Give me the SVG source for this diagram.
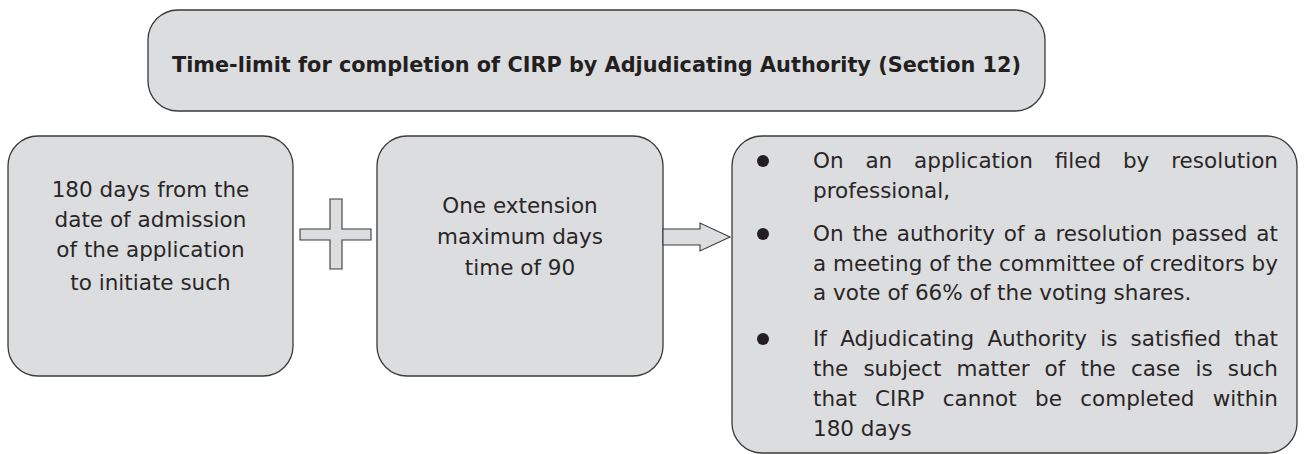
<svg xmlns="http://www.w3.org/2000/svg" width="1304" height="454" viewBox="0 0 1304 454">
<style>
.box{fill:#dcdddf;stroke:#3a3a3a;stroke-width:1.3}
.shape{fill:#dcdddf;stroke:#3a3a3a;stroke-width:1.1}
.t{font-family:"DejaVu Sans",sans-serif;font-size:21.5px;fill:#2a2627}
.c{text-anchor:middle}
.title{font-family:"DejaVu Sans",sans-serif;font-size:20.8px;font-weight:bold;fill:#231f20}
.dot{fill:#231f20}
</style>
<rect width="1304" height="454" fill="#ffffff"/>
<g id="title-node">
<rect class="box" x="148" y="10" width="897" height="101" rx="30"/>
<text class="title" x="172" y="72" textLength="849" lengthAdjust="spacingAndGlyphs">Time-limit for completion of CIRP by Adjudicating Authority (Section 12)</text>
</g>
<g id="node-180days">
<rect class="box" x="8" y="136" width="285" height="240" rx="30"/>
<text class="t c" x="150.5" y="197">180 days from the</text>
<text class="t c" x="150.5" y="227">date of admission</text>
<text class="t c" x="150.5" y="257">of the application</text>
<text class="t c" x="150.5" y="290">to initiate such</text>
</g>
<g id="node-extension">
<rect class="box" x="377" y="136" width="286" height="240" rx="30"/>
<text class="t c" x="520" y="213">One extension</text>
<text class="t c" x="520" y="244">maximum days</text>
<text class="t c" x="520" y="275">time of 90</text>
</g>
<g id="node-conditions">
<rect class="box" x="732" y="136" width="565" height="317" rx="30"/>
<circle class="dot" cx="763" cy="161" r="6"/>
<circle class="dot" cx="763" cy="234" r="6"/>
<circle class="dot" cx="763" cy="339" r="6"/>
<text class="t" x="813" y="168" textLength="465" lengthAdjust="spacing" word-spacing="15">On an application filed by resolution</text>
<text class="t" x="813" y="198">professional,</text>
<text class="t" x="813" y="241" textLength="465" lengthAdjust="spacing" word-spacing="2">On the authority of a resolution passed at</text>
<text class="t" x="813" y="271" textLength="465" lengthAdjust="spacing">a meeting of the committee of creditors by</text>
<text class="t" x="813" y="300">a vote of 66% of the voting shares.</text>
<text class="t" x="813" y="346" textLength="465" lengthAdjust="spacing" word-spacing="6.4">If Adjudicating Authority is satisfied that</text>
<text class="t" x="813" y="376" textLength="465" lengthAdjust="spacing" word-spacing="8.3">the subject matter of the case is such</text>
<text class="t" x="813" y="406" textLength="465" lengthAdjust="spacing" word-spacing="11.6">that CIRP cannot be completed within</text>
<text class="t" x="813" y="436">180 days</text>
</g>
<g id="connectors">
<path class="shape" d="M330,199 H342 V229 H371 V240 H342 V269 H330 V240 H300 V229 H330 Z"/>
<path class="shape" d="M663,229 H700 V223 L730,237 L700,251 V245 H663 Z"/>
</g>
</svg>
